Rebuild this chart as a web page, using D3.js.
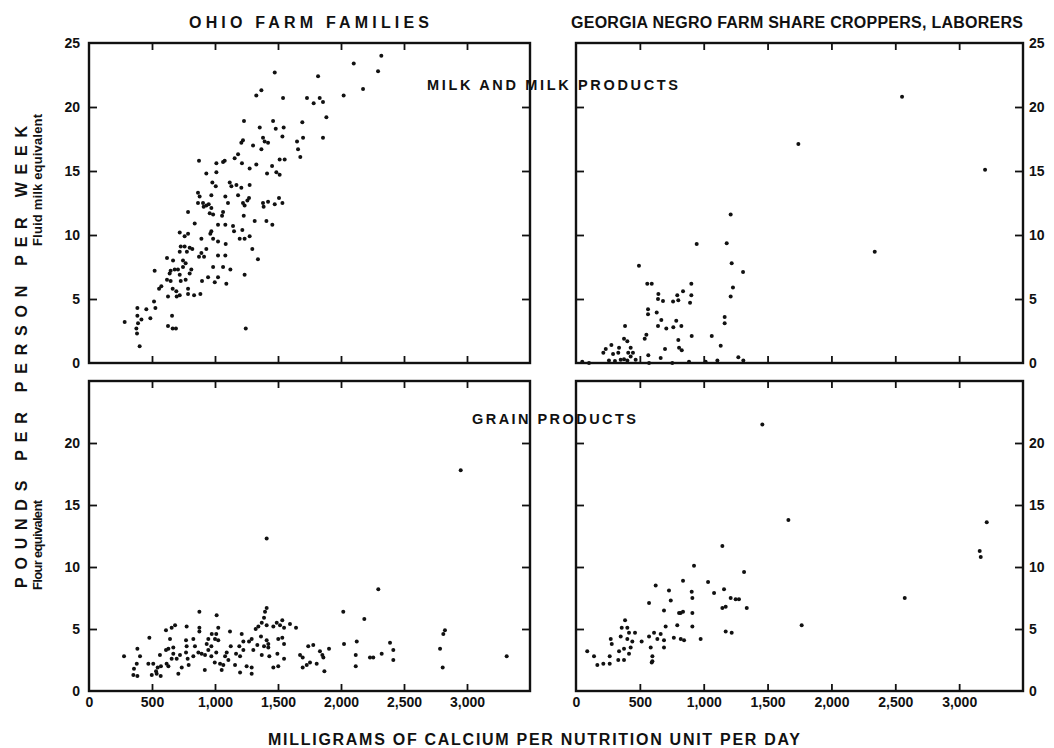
<!DOCTYPE html>
<html lang="en">
<head>
    <meta charset="UTF-8">
    <title>Calcium intake vs milk and grain products</title>
    <script src="https://d3js.org/d3.v7.min.js"></script>
    <style>
        body { margin: 0; background: #fff; }
        svg { display: block; }
        text { font-family: "Liberation Sans", Arial, sans-serif; font-weight: bold; fill: #111; }
        .tick text { font-size: 14px; }
        .frame { fill: none; stroke: #111; stroke-width: 2.4; }
        .tick line { stroke: #111; stroke-width: 1.8; }
        .domain { display: none; }
        .dot { fill: #111; }
    </style>
</head>
<body>
<div id="chart"></div>
<script>
    // [mg calcium per nutrition unit per day, pounds per person per week]
    const ohioMilk = [
        [2320,24.0],[2294,22.8],[2101,23.4],[2175,21.4],[2021,20.9],[1884,19.2],[1857,17.6],[1818,22.4],
        [1831,20.7],[1857,20.4],[1783,20.3],[1730,20.7],[1693,18.8],[1699,17.6],[1651,17.3],[1659,16.7],
        [1677,16.1],[1474,22.7],[1540,20.7],[1368,21.3],[1328,20.9],[1230,18.9],[1461,18.9],[1482,18.3],
        [1545,18.4],[1535,17.7],[1355,18.4],[1381,17.6],[1394,17.3],[1421,17.2],[1368,16.7],[1302,17.0],
        [1222,17.4],[1209,17.2],[1183,16.3],[1156,16.0],[1214,15.6],[1328,15.5],[1275,15.2],[1453,15.4],
        [1487,14.9],[1513,14.7],[1413,14.8],[1513,15.9],[1553,15.9],[1077,15.8],[1064,15.7],[1011,15.6],
        [873,15.8],[931,14.8],[1011,14.9],[979,14.1],[1117,14.1],[1130,13.8],[1170,13.9],[1209,13.7],
        [1275,13.9],[1006,13.8],[865,13.3],[878,13.0],[971,13.1],[1082,13.0],[1103,12.5],[1183,13.1],
        [1222,12.5],[1270,12.9],[1257,12.7],[1235,12.3],[1381,12.5],[1386,12.2],[1421,12.6],[1474,12.4],
        [1508,12.9],[1535,12.5],[865,12.5],[905,12.5],[931,12.3],[950,12.4],[910,12.2],[971,12.1],
        [958,11.7],[985,11.6],[1064,11.8],[1056,11.5],[786,11.8],[1228,11.5],[1315,11.1],[1408,11.1],
        [1455,10.8],[1024,10.8],[1082,10.8],[839,10.9],[1143,10.7],[1151,10.3],[1217,10.4],[971,10.3],
        [963,10.1],[720,10.2],[786,10.1],[759,9.9],[892,9.7],[985,9.7],[1024,9.5],[1196,9.7],
        [1235,9.7],[1275,9.9],[1085,9.3],[728,9.1],[759,9.1],[799,9.0],[820,8.9],[777,8.7],
        [720,8.7],[931,8.9],[892,8.6],[873,8.3],[913,8.3],[1024,8.4],[1082,8.4],[1296,8.9],
        [1341,8.1],[619,8.2],[667,8.0],[746,8.0],[767,7.8],[746,7.5],[812,7.3],[799,7.0],
        [706,7.3],[680,7.3],[648,7.2],[521,7.2],[640,7.0],[720,6.9],[767,6.5],[619,6.5],
        [648,6.4],[728,6.4],[897,6.4],[945,6.7],[985,7.5],[1024,6.7],[998,6.3],[1122,7.3],
        [1064,7.5],[1090,6.2],[1235,6.9],[556,5.8],[574,6.0],[664,5.8],[693,5.6],[627,5.2],
        [696,5.2],[720,5.3],[786,5.8],[786,5.4],[834,5.3],[884,5.4],[516,4.8],[527,4.3],
        [455,4.2],[384,4.3],[384,3.7],[416,3.4],[487,3.5],[389,3.1],[376,2.7],[381,2.3],
        [283,3.2],[659,3.7],[627,2.9],[664,2.7],[690,2.7],[1244,2.7],[402,1.3]
    ];

    const georgiaMilk = [
        [2553,20.8],[1741,17.1],[2339,8.7],[3203,15.1],
        [1211,11.6],[945,9.3],[1180,9.35],[1219,7.8],[1308,7.1],[1229,5.9],[1211,5.2],[1164,3.6],
        [1164,3.1],[1133,1.35],[1063,2.1],[1271,0.45],[1310,0.2],[493,7.6],[558,6.2],[593,6.2],
        [645,5.4],[642,5.0],[681,4.85],[564,4.2],[564,3.8],[632,3.95],[668,3.35],[642,2.9],
        [707,2.7],[760,4.8],[793,5.3],[801,4.9],[838,5.6],[903,6.2],[903,5.3],[893,4.7],
        [785,3.3],[762,2.8],[825,2.9],[906,2.1],[801,1.8],[807,1.2],[828,1.0],[697,1.1],
        [663,0.4],[566,0.6],[551,2.2],[538,1.9],[384,2.9],[376,1.9],[402,1.7],[428,1.2],
        [409,0.8],[446,0.8],[337,1.2],[277,1.4],[290,0.7],[331,0.8],[214,0.8],[233,1.1],
        [258,0.2],[350,0.25],[376,0.3],[428,0.5],[467,0.25],[102,0.0],[49,0.1],[572,0.0],
        [754,0.0],[885,0.1],[1107,0.2],[1015,0.1],[305,0.15],[402,0.2]
    ];

    const ohioGrain = [
        [2296,8.2],[2018,6.4],[2185,5.8],[2825,4.9],[2812,4.6],[2786,3.4],[2807,1.9],[3315,2.8],
        [2389,3.9],[2415,3.3],[2415,2.5],[2323,3.0],[2256,2.7],[2230,2.7],[2125,4.0],[2117,2.9],
        [2117,2.0],[2024,3.8],[1905,3.4],[1852,2.9],[1860,2.7],[1868,1.6],[1833,3.2],[1780,3.7],
        [1740,3.6],[1807,2.2],[1754,2.3],[1728,2.1],[1696,1.9],[1675,2.9],[1696,2.7],[1643,5.1],
        [1595,5.4],[1534,5.7],[1548,5.1],[1516,5.3],[1490,5.5],[1463,5.2],[1502,4.2],[1534,4.3],
        [1548,3.8],[1495,3.0],[1548,2.6],[1502,2.0],[1463,1.9],[1410,6.7],[1397,6.4],[1389,5.9],
        [1371,5.5],[1410,5.3],[1344,5.2],[1323,5.0],[1365,4.4],[1410,4.1],[1423,3.8],[1389,3.6],
        [1423,3.5],[1371,2.9],[1431,2.8],[1336,3.7],[1291,4.2],[1270,4.0],[1212,4.6],[1225,4.0],
        [1193,3.6],[1225,3.3],[1199,2.8],[1167,3.0],[1159,2.1],[1199,1.5],[1251,2.0],[1291,1.9],
        [1291,1.4],[1304,3.3],[1119,4.8],[1125,3.6],[1093,3.1],[1080,2.8],[1106,2.5],[1066,2.1],
        [1053,1.7],[1013,6.1],[1026,5.1],[1010,4.6],[974,4.6],[1000,4.2],[947,4.2],[1026,4.1],
        [934,3.8],[971,3.6],[947,3.3],[894,3.0],[921,2.9],[971,2.8],[1010,3.1],[998,2.3],
        [1040,2.2],[919,1.7],[876,5.1],[876,4.8],[876,6.4],[828,4.2],[841,3.6],[868,3.1],
        [828,2.8],[775,5.2],[770,4.1],[775,3.6],[770,3.1],[783,2.6],[791,2.1],[736,1.9],
        [709,1.4],[722,2.9],[696,2.6],[683,5.3],[656,5.1],[643,4.2],[630,3.4],[669,3.5],
        [669,3.0],[656,2.6],[611,4.9],[611,3.3],[616,2.2],[630,2.0],[571,2.0],[498,1.3],
        [532,1.6],[537,1.4],[569,1.2],[545,1.9],[471,2.2],[510,2.2],[479,4.3],[405,2.8],
        [384,3.4],[379,2.2],[357,1.8],[352,1.3],[384,1.2],[278,2.8],[563,2.9],
        [1410,12.3],[2950,17.8]
    ];

    const georgiaGrain = [
        [1459,21.5],[1663,13.8],[3216,13.6],[3169,10.8],[3161,11.3],[2574,7.5],[1767,5.3],[1146,11.7],
        [1316,9.6],[924,10.1],[1034,8.8],[838,8.9],[624,8.5],[1081,7.9],[1159,8.2],[728,8.1],
        [742,7.3],[906,8.0],[911,7.5],[1211,7.5],[1250,7.4],[1276,7.4],[572,7.1],[689,6.5],
        [1337,6.7],[1146,6.7],[1172,6.8],[807,6.3],[838,6.4],[911,6.3],[819,6.3],[702,5.2],
        [793,5.3],[911,5.2],[1172,4.8],[1219,4.7],[976,4.2],[766,4.3],[820,4.2],[846,4.1],
        [663,4.6],[689,4.1],[637,4.2],[611,4.7],[572,4.4],[585,3.5],[689,3.5],[598,2.8],
        [598,2.4],[514,4.0],[462,4.7],[441,4.0],[415,4.7],[402,5.1],[384,5.7],[358,5.1],
        [350,4.4],[402,4.2],[272,4.2],[280,3.8],[428,3.5],[376,3.4],[337,3.2],[415,3.0],
        [376,2.5],[331,2.5],[264,2.8],[264,2.2],[214,2.2],[167,2.1],[141,2.8],[88,3.2],
        [593,2.3]
    ];

    const xTicks = [0, 500, 1000, 1500, 2000, 2500, 3000];
    const yTicksMilk = [0, 5, 10, 15, 20, 25];
    const yTicksGrain = [0, 5, 10, 15, 20];
    const yInnerTicks = [5, 10, 15, 20];

    const groupTitles = ["OHIO  FARM  FAMILIES", "GEORGIA NEGRO FARM SHARE CROPPERS, LABORERS"];
    const foodTitles = ["MILK AND MILK PRODUCTS", "GRAIN  PRODUCTS"];

    const W = 1054, H = 748;
    const svg = d3.select("#chart").append("svg").attr("width", W).attr("height", H);

    const cols = [{ x0: 89, x1: 530 }, { x0: 576, x1: 1023 }];
    const rows = [{ y0: 43, y1: 363 }, { y0: 381, y1: 691 }];

    const panels = [
        { data: ohioMilk, col: 0, row: 0, labels: yTicksMilk },
        { data: georgiaMilk, col: 1, row: 0, labels: yTicksMilk },
        { data: ohioGrain, col: 0, row: 1, labels: yTicksGrain },
        { data: georgiaGrain, col: 1, row: 1, labels: yTicksGrain }
    ];

    panels.forEach(p => {
        const c = cols[p.col], r = rows[p.row];
        const x = d3.scaleLinear().domain([0, 3500]).range([c.x0, c.x1]);
        const y = d3.scaleLinear().domain([0, 25]).range([r.y1, r.y0]);
        const g = svg.append("g");

        // frame
        g.append("rect").attr("class", "frame")
            .attr("x", c.x0).attr("y", r.y0)
            .attr("width", c.x1 - c.x0).attr("height", r.y1 - r.y0);

        // inward ticks on all four sides
        g.append("g").attr("transform", `translate(0,${r.y1})`)
            .call(d3.axisBottom(x).tickValues(xTicks.slice(1)).tickSize(-7).tickSizeOuter(0).tickFormat(""));
        g.append("g").attr("transform", `translate(0,${r.y0})`)
            .call(d3.axisTop(x).tickValues(xTicks.slice(1)).tickSize(-7).tickSizeOuter(0).tickFormat(""));
        g.append("g").attr("transform", `translate(${c.x0},0)`)
            .call(d3.axisLeft(y).tickValues(yInnerTicks).tickSize(-8).tickSizeOuter(0).tickFormat(""));
        g.append("g").attr("transform", `translate(${c.x1},0)`)
            .call(d3.axisRight(y).tickValues(yInnerTicks).tickSize(-8).tickSizeOuter(0).tickFormat(""));

        // value labels: left side for Ohio, right side for Georgia
        const yLab = p.col === 0
            ? d3.axisLeft(y).tickPadding(9).tickSize(0)
            : d3.axisRight(y).tickPadding(6).tickSize(0);
        g.append("g").attr("transform", `translate(${p.col === 0 ? c.x0 : c.x1},0)`)
            .call(yLab.tickValues(p.labels).tickFormat(d3.format("d")));

        if (p.row === 1) {
            g.append("g").attr("transform", `translate(0,${r.y1})`)
                .call(d3.axisBottom(x).tickValues(xTicks).tickSize(0).tickPadding(6).tickFormat(d3.format(",")));
        }

        g.selectAll(".dot").data(p.data).enter().append("circle")
            .attr("class", "dot")
            .attr("cx", d => x(d[0]))
            .attr("cy", d => y(d[1]))
            .attr("r", 2);
    });

    // titles
    svg.append("text").attr("x", 189).attr("y", 28).attr("textLength", 240)
        .attr("lengthAdjust", "spacing").style("font-size", "16px").text(groupTitles[0]);
    svg.append("text").attr("x", 571).attr("y", 28).attr("textLength", 452)
        .attr("lengthAdjust", "spacing").style("font-size", "16px").text(groupTitles[1]);
    svg.append("text").attr("x", 427).attr("y", 90).attr("textLength", 251)
        .attr("lengthAdjust", "spacing").style("font-size", "14.5px").text(foodTitles[0]);
    svg.append("text").attr("x", 472).attr("y", 424).attr("textLength", 164)
        .attr("lengthAdjust", "spacing").style("font-size", "14.5px").text(foodTitles[1]);

    // axis titles
    svg.append("text").attr("x", 268).attr("y", 745).attr("textLength", 532)
        .attr("lengthAdjust", "spacing").style("font-size", "16px")
        .text("MILLIGRAMS OF CALCIUM PER NUTRITION UNIT PER DAY");

    svg.append("text").attr("transform", "translate(27,357) rotate(-90)")
        .attr("text-anchor", "middle").attr("textLength", 462).attr("lengthAdjust", "spacing")
        .style("font-size", "16px").text("POUNDS PER PERSON PER WEEK");
    svg.append("text").attr("transform", "translate(42,180) rotate(-90)")
        .attr("text-anchor", "middle").attr("textLength", 132).attr("lengthAdjust", "spacing")
        .style("font-size", "13px").text("Fluid milk equivalent");
    svg.append("text").attr("transform", "translate(42,545) rotate(-90)")
        .attr("text-anchor", "middle").attr("textLength", 90).attr("lengthAdjust", "spacing")
        .style("font-size", "13px").text("Flour equivalent");
</script>
</body>
</html>
